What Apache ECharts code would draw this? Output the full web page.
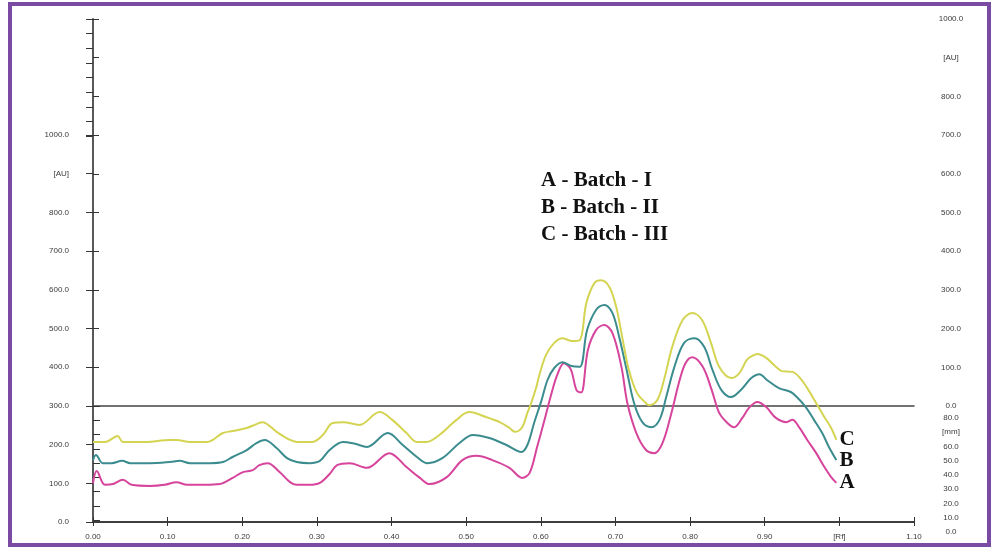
<!DOCTYPE html>
<html>
<head>
<meta charset="utf-8">
<script src="https://cdn.jsdelivr.net/npm/echarts@6/dist/echarts.min.js"></script>
<style>
  html, body { margin: 0; padding: 0; background: #fff; }
  #chart { width: 997px; height: 548px; }
</style>
</head>
<body>
<div id="chart"></div>
<script>
// densitogram traces, [Rf, AU]
const batchA = [
  [0.000, 100], [0.005, 132], [0.016, 96], [0.027, 98], [0.040, 109], [0.052, 96],
  [0.076, 93], [0.096, 96], [0.112, 103], [0.126, 96], [0.150, 96], [0.170, 98],
  [0.187, 114], [0.201, 129], [0.214, 134], [0.223, 147], [0.234, 152], [0.250, 129],
  [0.264, 103], [0.273, 96], [0.290, 96], [0.304, 101], [0.317, 124], [0.327, 147],
  [0.344, 152], [0.367, 140], [0.397, 178], [0.420, 142], [0.438, 114], [0.451, 98],
  [0.474, 116], [0.495, 160], [0.514, 171], [0.535, 160], [0.558, 140], [0.575, 114],
  [0.585, 127], [0.595, 194], [0.605, 264], [0.614, 330], [0.622, 380], [0.631, 410],
  [0.640, 395], [0.648, 340], [0.654, 335], [0.663, 444], [0.674, 496], [0.685, 509],
  [0.696, 488], [0.708, 401], [0.716, 307], [0.728, 230], [0.741, 186], [0.752, 178],
  [0.763, 204], [0.775, 282], [0.786, 367], [0.794, 411], [0.803, 426], [0.817, 401],
  [0.829, 341], [0.839, 282], [0.850, 256], [0.859, 245], [0.870, 269], [0.879, 295],
  [0.890, 310], [0.902, 297], [0.915, 269], [0.929, 258], [0.937, 264], [0.946, 245],
  [0.957, 212], [0.969, 178], [0.980, 142], [0.989, 116], [0.996, 101]
];
const batchB = [
  [0.000, 160], [0.004, 173], [0.013, 152], [0.025, 152], [0.039, 158], [0.050, 152],
  [0.076, 152], [0.103, 155], [0.116, 158], [0.130, 152], [0.157, 152], [0.174, 155],
  [0.187, 168], [0.206, 186], [0.219, 204], [0.230, 212], [0.246, 191], [0.260, 165],
  [0.273, 155], [0.290, 152], [0.304, 158], [0.317, 186], [0.335, 207], [0.351, 202],
  [0.367, 194], [0.395, 230], [0.415, 199], [0.434, 168], [0.448, 152], [0.468, 165],
  [0.491, 204], [0.509, 225], [0.531, 217], [0.554, 199], [0.574, 181], [0.582, 199],
  [0.591, 256], [0.601, 315], [0.609, 367], [0.618, 398], [0.629, 413], [0.641, 403],
  [0.652, 401], [0.662, 496], [0.674, 548], [0.685, 561], [0.696, 540], [0.705, 478],
  [0.715, 393], [0.725, 307], [0.736, 258], [0.748, 245], [0.759, 264], [0.768, 323],
  [0.779, 401], [0.792, 463], [0.806, 475], [0.819, 452], [0.830, 393], [0.842, 341],
  [0.855, 323], [0.868, 341], [0.882, 372], [0.893, 382], [0.903, 367], [0.919, 346],
  [0.935, 336], [0.943, 323], [0.955, 297], [0.966, 264], [0.977, 230], [0.986, 194],
  [0.996, 160]
];
const batchC = [
  [0.000, 207], [0.016, 207], [0.033, 222], [0.040, 207], [0.070, 207], [0.103, 212],
  [0.112, 212], [0.130, 207], [0.153, 207], [0.174, 230], [0.187, 235], [0.206, 243],
  [0.219, 253], [0.227, 258], [0.246, 233], [0.264, 212], [0.273, 207], [0.294, 207],
  [0.308, 225], [0.321, 256], [0.335, 258], [0.357, 251], [0.384, 284], [0.401, 264],
  [0.420, 230], [0.434, 207], [0.447, 207], [0.464, 225], [0.487, 264], [0.504, 284],
  [0.527, 271], [0.545, 258], [0.558, 243], [0.565, 233], [0.575, 245], [0.582, 282],
  [0.587, 307], [0.594, 349], [0.598, 380], [0.607, 432], [0.618, 463], [0.629, 475],
  [0.641, 468], [0.652, 470], [0.661, 566], [0.672, 618], [0.681, 625], [0.692, 607],
  [0.701, 556], [0.709, 478], [0.718, 393], [0.729, 333], [0.741, 307], [0.745, 302],
  [0.756, 315], [0.765, 367], [0.776, 452], [0.790, 522], [0.803, 540], [0.816, 522],
  [0.828, 463], [0.839, 401], [0.855, 372], [0.866, 385], [0.876, 419], [0.883, 429],
  [0.890, 434], [0.902, 424], [0.915, 401], [0.923, 390], [0.937, 388], [0.946, 375],
  [0.957, 346], [0.969, 307], [0.980, 271], [0.989, 243], [0.996, 212]
];
const legendLines = ['A - Batch - I', 'B - Batch - II', 'C - Batch - III'];

const axisColor = '#333';
const tickFont = { fontSize: 8, color: '#3a3a3a', fontFamily: 'Arial, Liberation Sans, sans-serif' };
const G = { left: 93, right: 83 };
const off = { show: false };

function auLabel(v) {
  if (v === 900) return '[AU]';
  return v.toFixed(1);
}
function mmLabel(v) {
  if (v === 70) return '[mm]';
  return v.toFixed(1);
}
function lineSeries(name, data, color) {
  return {
    name: name,
    type: 'line',
    xAxisIndex: 0,
    yAxisIndex: 0,
    data: data,
    smooth: 0.35,
    showSymbol: false,
    lineStyle: { color: color, width: 2 },
    endLabel: {
      show: true,
      formatter: name,
      distance: 3,
      fontFamily: 'Liberation Serif',
      fontWeight: 'bold',
      fontSize: 21,
      color: '#111'
    }
  };
}
function ticks(len) {
  return { show: true, inside: false, length: len, lineStyle: { color: axisColor } };
}

const chart = echarts.init(document.getElementById('chart'));
chart.setOption({
  animation: false,
  grid: [
    { ...G, top: 19, bottom: 26 },
    { ...G, top: 135, bottom: 26 },
    { ...G, top: 19, bottom: 142 },
    { ...G, top: 418, bottom: 16 },
    { ...G, top: 406, bottom: 28 },
    { ...G, top: 19, bottom: 412 }
  ],
  xAxis: [
    {
      gridIndex: 0, type: 'value', min: 0, max: 1.1, interval: 0.1, position: 'bottom',
      axisLine: { lineStyle: { color: axisColor, width: 1.5 } },
      axisTick: ticks(4),
      axisLabel: {
        ...tickFont, margin: 11,
        formatter: v => (Math.abs(v - 1) < 1e-6 ? '[Rf]' : v.toFixed(2))
      },
      splitLine: off
    },
    {
      gridIndex: 0, type: 'value', min: 0, max: 1.1, interval: 0.1, position: 'top',
      axisLine: { lineStyle: { color: axisColor, width: 1.5 } },
      axisTick: ticks(5),
      axisLabel: off, splitLine: off
    },
    { gridIndex: 1, type: 'value', min: 0, max: 1.1, show: false },
    {
      gridIndex: 2, type: 'value', min: 0, max: 1.1, position: 'bottom',
      axisLine: { lineStyle: { color: '#444', width: 1.5 } },
      axisTick: off, axisLabel: off, splitLine: off
    },
    { gridIndex: 3, type: 'value', min: 0, max: 1.1, show: false },
    { gridIndex: 4, type: 'value', min: 0, max: 1.1, show: false },
    { gridIndex: 5, type: 'value', min: 0, max: 1.1, show: false }
  ],
  yAxis: [
    {
      gridIndex: 0, type: 'value', min: 0, max: 1300, position: 'left',
      axisLine: { show: true, lineStyle: { color: axisColor, width: 1.5 } },
      axisTick: off, axisLabel: off, splitLine: off
    },
    {
      gridIndex: 0, type: 'value', min: 0, max: 1300, position: 'right',
      axisLine: { show: true, lineStyle: { color: '#555', width: 1.5 } },
      axisTick: off, axisLabel: off, splitLine: off
    },
    {
      gridIndex: 1, type: 'value', min: 0, max: 1000, interval: 100, position: 'left',
      axisLine: off,
      axisTick: ticks(7),
      axisLabel: { ...tickFont, margin: 24, formatter: auLabel },
      splitLine: off
    },
    {
      gridIndex: 2, type: 'value', min: 0, max: 1000, interval: 100, position: 'right',
      axisLine: off,
      axisTick: ticks(6),
      axisLabel: { ...tickFont, margin: 37, align: 'center', formatter: auLabel },
      splitLine: off
    },
    {
      gridIndex: 3, type: 'value', min: 0, max: 80, interval: 10, position: 'right',
      axisLine: off, axisTick: off,
      axisLabel: { ...tickFont, margin: 37, align: 'center', formatter: mmLabel },
      splitLine: off
    },
    {
      gridIndex: 4, type: 'value', min: 0, max: 80, interval: 10, position: 'right',
      axisLine: off,
      axisTick: ticks(7),
      axisLabel: off, splitLine: off
    },
    {
      gridIndex: 5, type: 'value', min: 0, max: 80, interval: 10, position: 'left',
      axisLine: off,
      axisTick: ticks(7),
      axisLabel: off, splitLine: off
    }
  ],
  graphic: [
    {
      type: 'rect',
      shape: { x: 10, y: 4, width: 979, height: 541 },
      style: { fill: 'none', stroke: '#7b4aa3', lineWidth: 4 },
      silent: true
    },
    ...legendLines.map((t, i) => ({
      type: 'text',
      left: 541,
      top: 170 + i * 27,
      style: {
        text: t,
        font: 'bold 21px "Liberation Serif", serif',
        fill: '#111'
      },
      silent: true
    }))
  ],
  series: [
    lineSeries('A', batchA, '#d6449c'),
    lineSeries('B', batchB, '#3b8c8e'),
    lineSeries('C', batchC, '#d4d452')
  ]
});
</script>
</body>
</html>
